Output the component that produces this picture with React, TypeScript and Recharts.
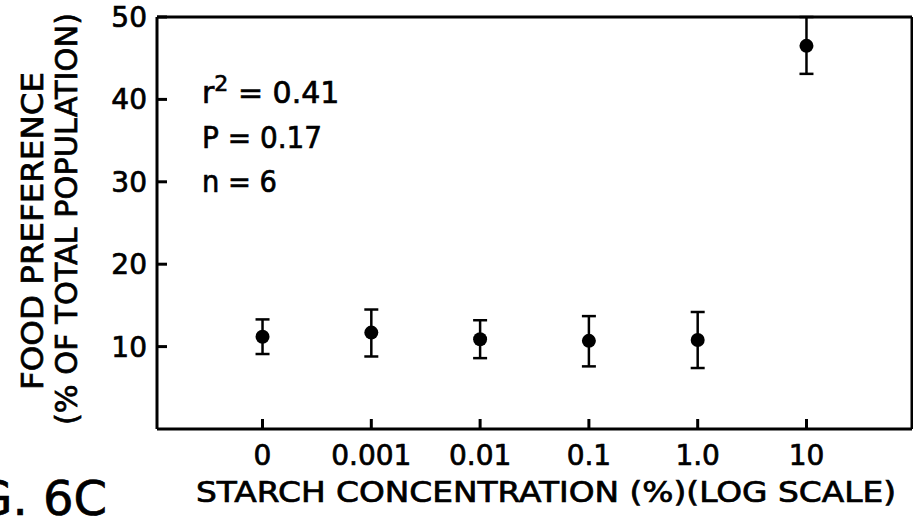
import {
  ScatterChart,
  Scatter,
  XAxis,
  YAxis,
  ErrorBar,
} from 'recharts';

// Starch concentration categories (placed on a log axis, 0 drawn one decade left of 0.001)
const concLabels = ['0', '0.001', '0.01', '0.1', '1.0', '10'];
const logPos = [-4, -3, -2, -1, 0, 1];

// Food preference (% of total population) with lower/upper error
const preference = [11.2, 11.7, 10.9, 10.7, 10.8, 46.5];
const errLow = [2.1, 2.9, 2.3, 3.1, 3.4, 3.4];
const errHigh = [2.1, 2.8, 2.3, 3.0, 3.4, 3.5];

const yTicks = [10, 20, 30, 40, 50];

const FONT = '"DejaVu Sans", sans-serif';
const INK = '#000';

const data = logPos.map((x, i) => ({
  x,
  y: preference[i],
  err: [errLow[i], errHigh[i]],
}));

function Dot(props: { cx?: number; cy?: number }) {
  return <circle cx={props.cx} cy={props.cy} r={7} fill={INK} />;
}

// nothing drawn: only ties the top/right frame axes to the data
function NoDot() {
  return <g />;
}

const tickText = { fontSize: 28, fill: INK, fontFamily: FONT, stroke: INK, strokeWidth: 0.7 };

export default function App() {
  return (
    <div style={{ position: 'absolute', left: 0, top: 0, width: 913, height: 522, background: '#fff' }}>
      <ScatterChart width={913} height={522} margin={{ top: 16, right: 0, bottom: 0, left: 0 }}>
        <XAxis
          type="number"
          dataKey="x"
          xAxisId="bottom"
          domain={[-4.97, 1.97]}
          ticks={logPos}
          allowDataOverflow
          height={93}
          tickSize={-10}
          tickMargin={26}
          tickFormatter={(v) => concLabels[logPos.indexOf(v)] ?? ''}
          tick={tickText}
          axisLine={{ stroke: INK, strokeWidth: 3 }}
          tickLine={{ stroke: INK, strokeWidth: 3 }}
        />
        <XAxis
          type="number"
          dataKey="x"
          xAxisId="top"
          orientation="top"
          domain={[-4.97, 1.97]}
          ticks={logPos}
          allowDataOverflow
          height={1}
          tickSize={-10}
          tick={false}
          axisLine={{ stroke: INK, strokeWidth: 3 }}
          tickLine={{ stroke: INK, strokeWidth: 3 }}
        />
        <YAxis
          type="number"
          dataKey="y"
          yAxisId="left"
          domain={[0, 50]}
          ticks={yTicks}
          allowDataOverflow
          width={157}
          tickSize={-10}
          tickMargin={20}
          tick={tickText}
          axisLine={{ stroke: INK, strokeWidth: 3 }}
          tickLine={{ stroke: INK, strokeWidth: 3 }}
        />
        <YAxis
          type="number"
          dataKey="y"
          yAxisId="right"
          orientation="right"
          domain={[0, 50]}
          ticks={yTicks}
          allowDataOverflow
          width={1}
          tickSize={-10}
          tick={false}
          axisLine={{ stroke: INK, strokeWidth: 3 }}
          tickLine={{ stroke: INK, strokeWidth: 3 }}
        />
        <Scatter
          data={data}
          xAxisId="top"
          yAxisId="right"
          shape={<NoDot />}
          isAnimationActive={false}
        />
        <Scatter
          data={data}
          xAxisId="bottom"
          yAxisId="left"
          shape={<Dot />}
          isAnimationActive={false}
        >
          <ErrorBar dataKey="err" direction="y" width={7} stroke={INK} strokeWidth={2.5} isAnimationActive={false} />
        </Scatter>
      </ScatterChart>

      <svg
        width={913}
        height={522}
        style={{ position: 'absolute', left: 0, top: 0, pointerEvents: 'none' }}
        fontFamily={FONT}
        fill={INK}
        stroke={INK}
        strokeWidth={0.7}
      >
        {/* y axis title, two lines */}
        <text
          x={43}
          y={231}
          fontSize={30}
          textAnchor="middle"
          textLength={318}
          lengthAdjust="spacingAndGlyphs"
          transform="rotate(-90, 43, 231)"
        >
          FOOD PREFERENCE
        </text>
        <text
          x={77}
          y={219}
          fontSize={30}
          textAnchor="middle"
          textLength={412}
          lengthAdjust="spacingAndGlyphs"
          transform="rotate(-90, 77, 219)"
        >
          (% OF TOTAL POPULATION)
        </text>

        {/* x axis title */}
        <text x={546} y={502} fontSize={28} textAnchor="middle" textLength={700} lengthAdjust="spacingAndGlyphs">
          STARCH CONCENTRATION (%)(LOG SCALE)
        </text>

        {/* regression stats */}
        <text x={202} y={103} fontSize={30}>
          r<tspan dy={-12} fontSize={22}>2</tspan>
          <tspan dy={12}> = 0.41</tspan>
        </text>
        <text x={202} y={148} fontSize={30} textLength={120} lengthAdjust="spacingAndGlyphs">
          P = 0.17
        </text>
        <text x={202} y={192} fontSize={30} textLength={75} lengthAdjust="spacingAndGlyphs">
          n = 6
        </text>

        {/* figure label, cut at the left edge as in the scan */}
        <text x={107} y={515} fontSize={48} textAnchor="end">
          FIG. 6C
        </text>
      </svg>
    </div>
  );
}
